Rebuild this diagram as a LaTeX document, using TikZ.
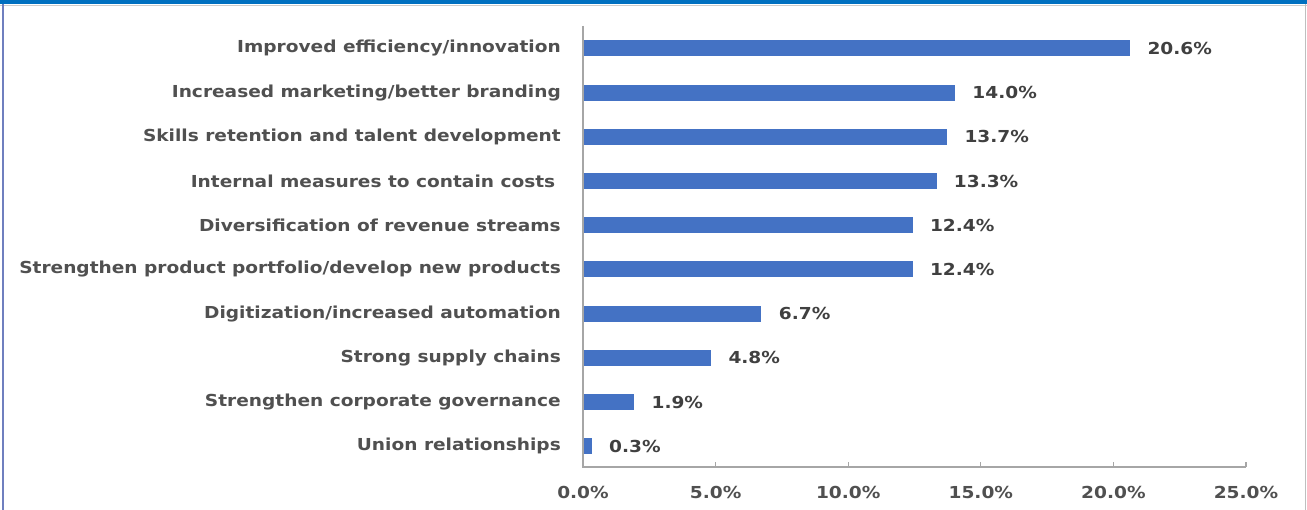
\documentclass[tikz,border=0pt]{standalone}
\usepackage{fontspec}
\setmainfont[FakeStretch=1.125]{DejaVu Sans}
\definecolor{barblue}{HTML}{4472C4}
\definecolor{topblue}{HTML}{0070C0}
\definecolor{txt}{HTML}{404040}
\definecolor{labtxt}{HTML}{505050}
\definecolor{axisgray}{HTML}{A6A6A6}
\definecolor{sideblue}{HTML}{6F7FBF}
\begin{document}
\begin{tikzpicture}[x=1pt,y=-1pt,
  lab/.style={anchor=east,inner sep=0pt,font=\fontsize{16.5}{19}\selectfont\bfseries,text=labtxt},
  val/.style={anchor=west,inner sep=0pt,font=\fontsize{16.5}{19}\selectfont\bfseries,text=txt},
  tick/.style={anchor=center,inner sep=0pt,font=\fontsize{16.5}{19}\selectfont\bfseries,text=labtxt},
  barbox/.style={fill=barblue,draw=none,inner sep=0pt,anchor=west,minimum height=16pt},
  axisline/.style={draw=axisgray,line width=1.2pt}]
\useasboundingbox (0,0) rectangle (1307,510);
\fill[white] (0,0) rectangle (1307,510);
% frame
\fill[topblue] (0,0) rectangle (1307,4.5);
\draw[black!20,line width=0.8pt] (0,5) -- (1307,5);
\draw[sideblue,line width=2pt] (3,4) -- (3,510);
\draw[black!25,line width=1pt] (1305,4) -- (1305,510);
% axes
\coordinate (o) at (583,467);
\coordinate (top) at (583,26);
\coordinate (xend) at (1246,467);
\draw[axisline] (top) -- (o) -- (xend);
\foreach \k/\t in {0/0.0,1/5.0,2/10.0,3/15.0,4/20.0,5/25.0}{
  \coordinate (t\k) at (583+132.6*\k,467);
  \draw[axisline] (t\k) -- ++(0,-5);
  \node[tick] (tl\k) at (583+132.6*\k,492) {\t\%};
}
% bars
\foreach \i/\v/\name in {
 0/20.6/{Improved efficiency/innovation},
 1/14.0/{Increased marketing/better branding},
 2/13.7/{Skills retention and talent development},
 3/13.3/{Internal measures to contain costs\kern5.5pt},
 4/12.4/{Diversification of revenue streams},
 5/12.4/{Strengthen product portfolio/develop new products},
 6/6.7/{Digitization/increased automation},
 7/4.8/{Strong supply chains},
 8/1.9/{Strengthen corporate governance},
 9/0.3/{Union relationships}}{
  \pgfmathsetmacro\yy{48.5+44.2*\i}
  \pgfmathsetmacro\ww{26.52*\v}
  \node[barbox,minimum width=\ww pt] (bar\i) at (583.6,\yy) {};
  \node[lab] (lab\i) at (561,\yy) {\name};
  \node[val] (val\i) at ([xshift=17pt]bar\i.east) {\v\%};
}
\end{tikzpicture}
\end{document}
